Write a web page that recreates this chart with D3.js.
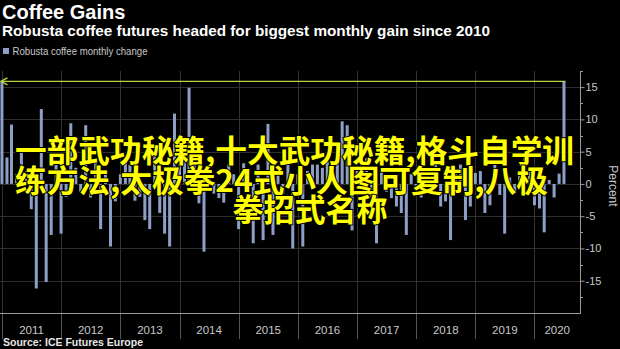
<!DOCTYPE html>
<html><head><meta charset="utf-8">
<script src="https://cdn.jsdelivr.net/npm/d3@7"></script>
<style>html,body{margin:0;padding:0;background:#000;} svg{display:block}</style>
</head><body><svg id="c" width="620" height="349"></svg>
<script>
const titleText = "Coffee Gains";
const subtitleText = "Robusta coffee futures headed for biggest monthly gain since 2010";
const legendLabel = "Robusta coffee monthly change";
const sourceText = "Source: ICE Futures Europe";
const axisTitle = "Percent";
const overlayLines = ["一部武功秘籍,十大武功秘籍,格斗自学训", "练方法,太极拳24式小人图可复制,八极", "拳招式名称"];
const years = [2011, 2012, 2013, 2014, 2015, 2016, 2017, 2018, 2019, 2020];
const yTicks = [-15, -10, -5, 0, 5, 10, 15];
const yMinorTicks = [-17.5, -12.5, -7.5, -2.5, 2.5, 7.5, 12.5, 17.5];
const refLevel = 15.9;

// Robusta coffee monthly change (%), by month; 2010 holds only December
const v2010 = [15.9];
const v2011 = [4.1, 9.2, 1.5, 5.5, 2.0, -3.9, -16.2, 11.6, -15.2, -7.9, 3.0, -7.7];
const v2012 = [-2.0, 9.4, 2.5, -1.2, 9.1, -2.1, 4.0, -7.0, 2.0, -9.7, -2.7, 1.5];
const v2013 = [4.0, 3.0, -2.6, -2.0, -5.6, -7.0, 4.5, -4.5, -7.7, -9.7, 10.9, 3.0];
const v2014 = [6.0, 14.9, 4.0, -3.0, -10.5, 2.0, -1.5, -2.2, -2.9, 3.0, 1.5, -7.0];
const v2015 = [3.2, 2.0, -9.2, 3.0, -8.7, 9.3, -7.9, 2.5, -1.5, 3.0, -10.0, 1.5];
const v2016 = [-9.7, 2.0, 3.0, 3.0, 2.5, 3.5, 2.0, 4.0, 9.7, 9.1, -7.2, 2.0];
const v2017 = [3.0, 4.0, -2.0, -9.2, 2.5, -1.2, -2.2, -3.5, -4.5, -7.9, 1.5, -1.0];
const v2018 = [-2.1, 1.0, 2.0, 3.0, -3.5, -2.7, -8.7, 1.7, 3.0, -5.6, -3.5, 1.7];
const v2019 = [2.0, -4.5, -3.3, 3.5, -1.7, -7.7, 1.0, -1.5, 2.0, 4.0, 2.5, -3.3];
const v2020 = [-3.8, -7.5, 0.6, -2.1, 1.6, 15.9];

const yearSeries = [[2010, 12, v2010], [2011, 1, v2011], [2012, 1, v2012], [2013, 1, v2013], [2014, 1, v2014],
  [2015, 1, v2015], [2016, 1, v2016], [2017, 1, v2017], [2018, 1, v2018], [2019, 1, v2019], [2020, 1, v2020]];

const data = [];
yearSeries.forEach(([yr, m0, vals]) => vals.forEach((v, k) => {
  // plotted at month end (first day of following month)
  data.push({date: new Date(yr, m0 - 1 + k + 1, 1), value: v});
}));

const svg = d3.select("#c");
const W = 620, H = 349;
const plot = {left: 0, right: 580, top: 71, bottom: 313};
const font = "'Liberation Sans', Arial, sans-serif";
const barColor = "#8d9fc6";

svg.append("rect").attr("width", W).attr("height", H).attr("fill", "#000");

const x = d3.scaleTime().domain([new Date(2010, 11, 20), new Date(2020, 9, 8)]).range([plot.left, plot.right]);
const y = d3.scaleLinear().domain([-20, 17.5]).range([plot.bottom, plot.top]);

// horizontal gridlines
svg.append("g").selectAll("line").data(yTicks).join("line")
  .attr("x1", plot.left).attr("x2", plot.right)
  .attr("y1", d => Math.round(y(d)) + 0.5).attr("y2", d => Math.round(y(d)) + 0.5)
  .attr("stroke", "#2e2e2e").attr("stroke-width", 1);

// vertical year gridlines & separators
const yearStarts = years.map(yr => new Date(yr, 0, 1));
svg.append("g").selectAll("line").data(yearStarts).join("line")
  .attr("x1", d => Math.round(x(d)) + 0.5).attr("x2", d => Math.round(x(d)) + 0.5)
  .attr("y1", plot.top).attr("y2", plot.bottom)
  .attr("stroke", "#333").attr("stroke-width", 1);
svg.append("g").selectAll("line").data(yearStarts).join("line")
  .attr("x1", d => Math.round(x(d)) + 0.5).attr("x2", d => Math.round(x(d)) + 0.5)
  .attr("y1", plot.bottom).attr("y2", plot.bottom + 26)
  .attr("stroke", "#555").attr("stroke-width", 1);

// bars
svg.append("g").selectAll("rect").data(data).join("rect")
  .attr("x", d => x(d.date) - 1.5).attr("width", 3)
  .attr("y", d => y(Math.max(0, d.value)))
  .attr("height", d => Math.abs(y(d.value) - y(0)))
  .attr("fill", barColor);

// reference line connecting Dec 2010 to latest
const first = data[0], last = data[data.length - 1];
const ly = y(refLevel);
const g = svg.append("g").attr("stroke", "#b9d640").attr("stroke-width", 1.3).attr("fill", "none");
g.append("line").attr("x1", x(first.date) - 1).attr("x2", x(last.date) + 1.5).attr("y1", ly).attr("y2", ly);
g.append("path").attr("d", d3.line()([[x(first.date) + 5.5, ly - 3.5], [x(first.date) - 1, ly], [x(first.date) + 5.5, ly + 3.5]]));

// x axis
svg.append("line").attr("x1", plot.left).attr("x2", plot.right + 1)
  .attr("y1", plot.bottom + 0.5).attr("y2", plot.bottom + 0.5).attr("stroke", "#9a9a9a");
const xEnd = x.domain()[1];
svg.append("g").selectAll("text").data(years).join("text")
  .attr("x", yr => {
    const a = new Date(yr, 0, 1), b = new Date(yr + 1, 0, 1);
    return (x(a) + Math.min(x(b), x(xEnd))) / 2;
  })
  .attr("y", plot.bottom + 21)
  .attr("text-anchor", "middle").attr("fill", "#c8c8c8")
  .attr("font-family", font).attr("font-size", 11.5)
  .text(d => d);

// right axis
const yAxis = svg.append("g").attr("transform", `translate(${plot.right + 0.5},0)`)
  .call(d3.axisRight(y).tickValues(yTicks).tickSize(4).tickPadding(1).tickFormat(d3.format("d")));
yAxis.select(".domain").attr("stroke", "#9a9a9a").attr("d", `M0,${plot.top}V${plot.bottom}`);
yAxis.selectAll(".tick line").attr("stroke", "#9a9a9a");
yAxis.selectAll(".tick text").attr("fill", "#c8c8c8").attr("font-family", font).attr("font-size", 11)
  .text(d => d < 0 ? "-" + Math.abs(d) : d);
svg.append("g").attr("transform", `translate(${plot.right + 0.5},0)`)
  .selectAll("line").data(yMinorTicks).join("line")
  .attr("x1", 0).attr("x2", 2.5)
  .attr("y1", d => Math.round(y(d)) + 0.5).attr("y2", d => Math.round(y(d)) + 0.5)
  .attr("stroke", "#9a9a9a");
svg.append("text").attr("transform", `translate(609,${y(0) + 2}) rotate(90)`)
  .attr("text-anchor", "middle").attr("fill", "#c8c8c8")
  .attr("font-family", font).attr("font-size", 12).text(axisTitle);

// titles
svg.append("text").attr("x", 2).attr("y", 19).attr("fill", "#fff")
  .attr("font-family", font).attr("font-weight", "bold").attr("font-size", 20).text(titleText);
svg.append("text").attr("x", 2).attr("y", 35.5).attr("fill", "#fff")
  .attr("font-family", font).attr("font-weight", "bold").attr("font-size", 15)
  .attr("textLength", 488).attr("lengthAdjust", "spacingAndGlyphs").text(subtitleText);

// legend
svg.append("rect").attr("x", 3).attr("y", 48).attr("width", 6).attr("height", 6).attr("fill", barColor);
svg.append("text").attr("x", 12.5).attr("y", 55).attr("fill", "#c8c8c8")
  .attr("font-family", font).attr("font-size", 10.5)
  .attr("textLength", 135).attr("lengthAdjust", "spacingAndGlyphs").text(legendLabel);

// source
svg.append("text").attr("x", 3).attr("y", 346).attr("fill", "#e6e6e6")
  .attr("font-family", font).attr("font-weight", "bold").attr("font-size", 10.5)
  .attr("textLength", 140).attr("lengthAdjust", "spacingAndGlyphs").text(sourceText);

// overlay text
const ov = svg.append("g").attr("font-family", "'Noto Sans CJK SC', sans-serif").attr("font-weight", 700)
  .attr("font-size", 31).attr("fill", "#ffff00")
  .attr("stroke", "#000").attr("stroke-width", 2).attr("paint-order", "stroke")
  .attr("dominant-baseline", "central");
ov.append("text").attr("x", 15).attr("y", 148).attr("textLength", 559).attr("lengthAdjust", "spacingAndGlyphs").text(overlayLines[0]);
ov.append("text").attr("x", 15).attr("y", 178).attr("textLength", 533).attr("lengthAdjust", "spacingAndGlyphs").text(overlayLines[1]);
ov.append("text").attr("x", 310).attr("y", 207).attr("text-anchor", "middle").text(overlayLines[2]);
</script>
</body></html>
